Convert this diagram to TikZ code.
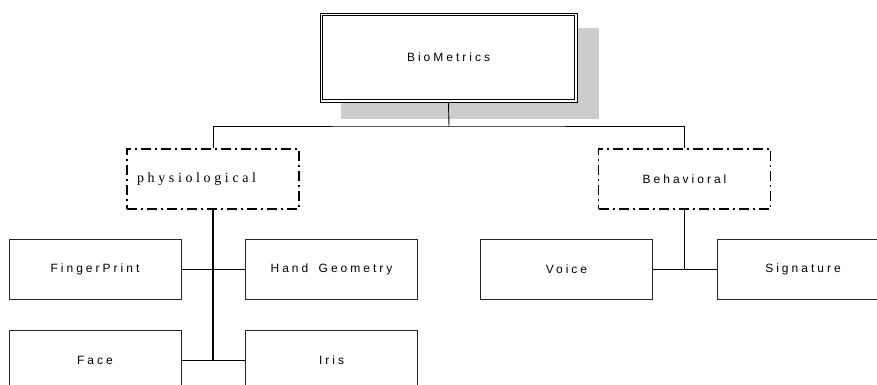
\documentclass[tikz,border=0pt]{standalone}
\usepackage{fontspec}
\setmainfont{Liberation Sans}
\newfontfamily\spaced[LetterSpace=25]{Liberation Sans}
\newfontfamily\spacedserif[LetterSpace=26]{Liberation Serif}
\begin{document}
\begin{tikzpicture}[x=1pt,y=-1pt,
  leaf/.style={draw=black!85, line width=0.8pt, fill=white, inner sep=0pt,
    minimum width=172pt, minimum height=60pt, font=\spaced\fontsize{12}{14}\selectfont},
  group/.style={draw=black, line width=1.8pt,
    dash pattern=on 10pt off 4pt on 2pt off 4pt,
    inner sep=0pt, minimum width=172pt, minimum height=60pt},
  root/.style={draw=black, line width=0.8pt, fill=white, inner sep=0pt,
    minimum width=257pt, minimum height=89pt,
    font=\spaced\fontsize{12}{14}\selectfont},
  link/.style={draw=black, line width=0.9pt},
  trunk/.style={draw=black, line width=1.6pt}]
  \clip (0,0) rectangle (877,385);
  \fill[white] (0,0) rectangle (877,385);

  % drop shadow behind the root box
  \fill[black!20] (341,28) rectangle (599,119);

  % root with its inner frame line
  \node[root] (bio) at (448.5,57.5) {BioMetrics};
  \draw[black, line width=0.8pt] ([shift={(3,3)}]bio.north west)
    rectangle ([shift={(-3,-3)}]bio.south east);

  % the two categories
  \node[group, text width=152pt, align=left, inner xsep=10pt,
        font=\spacedserif\fontsize{14}{16}\selectfont] (phys) at (213,179) {physiological};
  \node[group, font=\spaced\fontsize{12}{14}\selectfont] (behav) at (684.5,179) {Behavioral};

  % physiological methods
  \node[leaf] (finger) at (95,269)    {FingerPrint};
  \node[leaf] (hand)   at (331.5,269) {Hand\hspace{4pt} Geometry};
  \node[leaf] (face)   at (95,360)    {Face};
  \node[leaf] (iris)   at (331.5,360) {Iris};

  % behavioral methods
  \node[leaf] (voice) at (566.5,269) {Voice};
  \node[leaf] (sig)   at (803,269)   {Signature};

  % tree connectors
  \coordinate (hub) at (449,126);
  \draw[link] (bio.south) -- (hub);
  \draw[link] (phys.north) |- (hub) -| (behav.north);

  \draw[link] (finger) -- (hand);
  \draw[link] (face) -- (iris);
  \draw[trunk] (phys.south) -- (phys.south |- face.east);

  \draw[link] (voice) -- (sig);
  \draw[link] (behav.south) -- (behav.south |- voice.east);
\end{tikzpicture}
\end{document}
